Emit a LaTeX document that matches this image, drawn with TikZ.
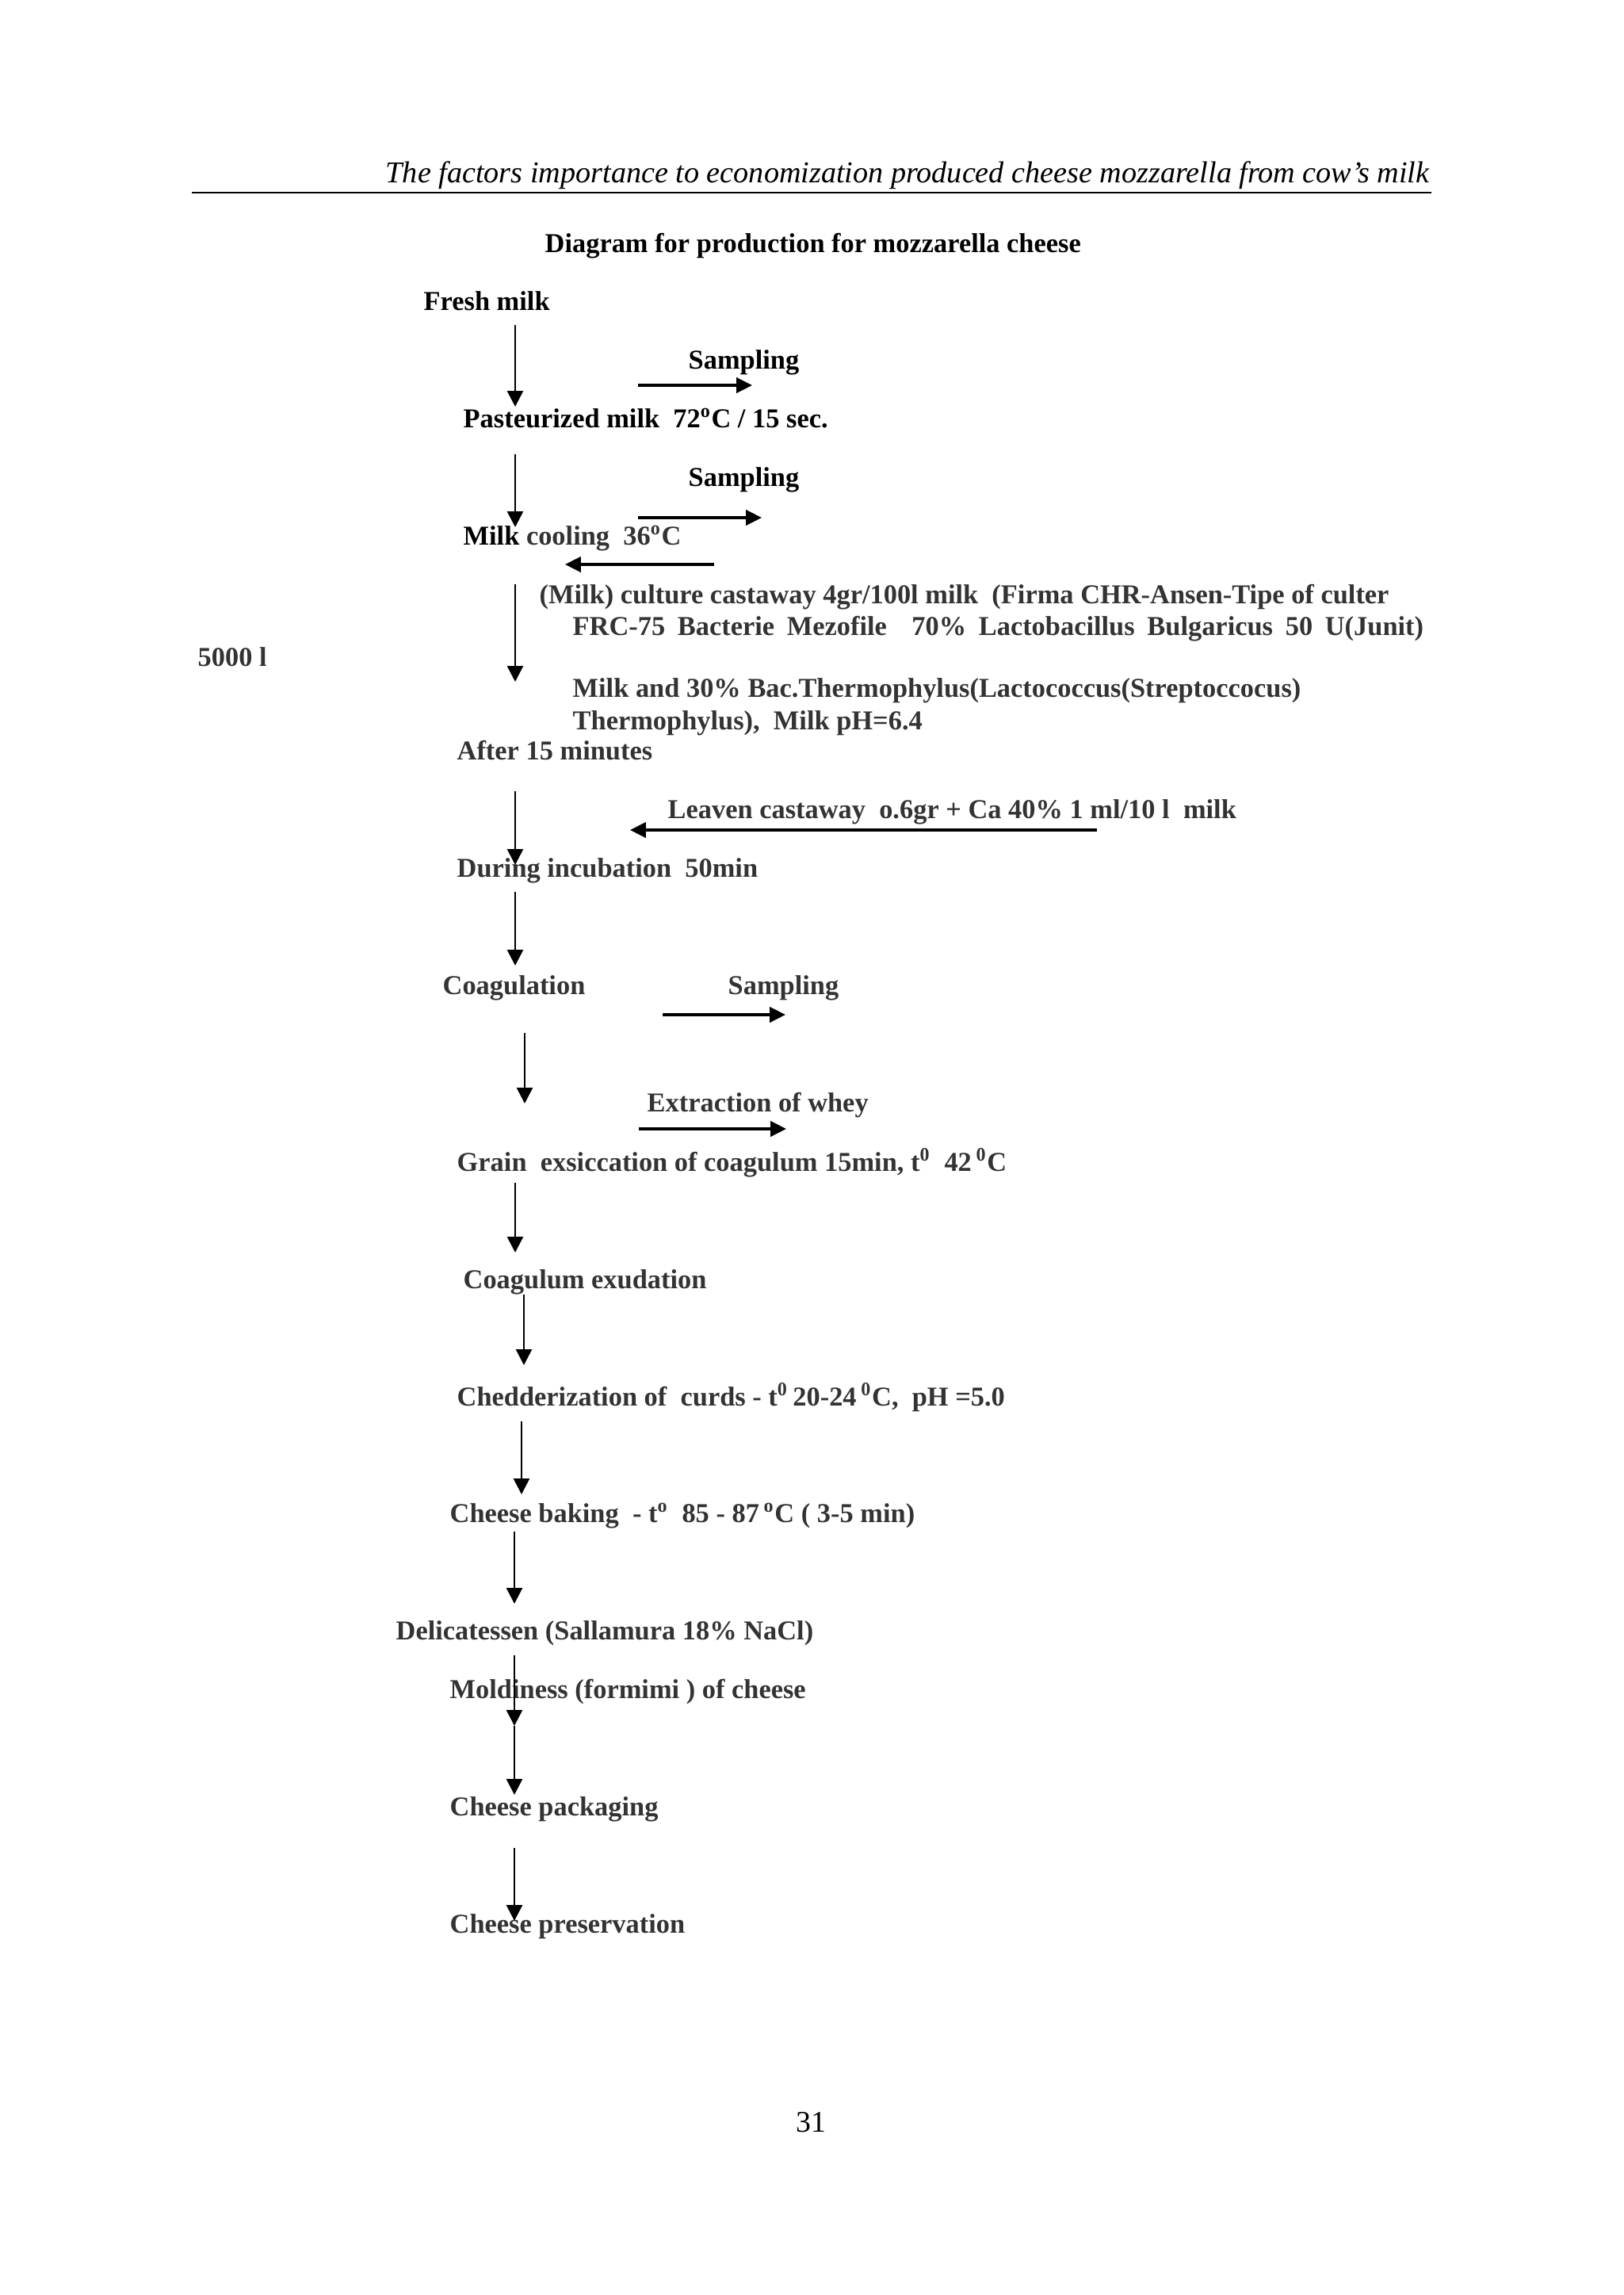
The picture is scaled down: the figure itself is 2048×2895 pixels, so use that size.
\documentclass[tikz,border=0pt]{standalone}
\usepackage{fontspec}
\setmainfont{Liberation Serif}
\usetikzlibrary{arrows.meta}
\definecolor{ink}{gray}{0.2}
\newcommand{\dg}{\textsuperscript{o}}
\newcommand{\dz}{\textsuperscript{0}}
\begin{document}
\begin{tikzpicture}[x=0.29067pt,y=-0.29067pt,
  lbl/.style={anchor=base west,inner sep=0pt,font=\bfseries\fontsize{10}{12}\selectfont},
  gr/.style={text=ink},
  flow/.style={-{Triangle[length=5.8pt,width=5.8pt]},line width=0.8pt},
  side/.style={-{Triangle[length=5.8pt,width=5.6pt]},line width=1pt}]
\useasboundingbox[fill=white] (0,0) rectangle (2048,2895);
% header
\node[anchor=base east,inner sep=0pt,font=\itshape\fontsize{11.1}{13}\selectfont] (hdr) at (1804,230) {The factors importance to economization produced cheese mozzarella from cow’s milk};
\coordinate (rl) at (242,243); \coordinate (rr) at (1806,243);
\draw[line width=0.8pt] (rl) -- (rr);
\node[lbl] (title) at (687,318) {Diagram for production for mozzarella cheese};
% flow texts
\node[lbl] (fresh) at (534,391) {Fresh milk};
\node[lbl] (samp1) at (868,465) {Sampling};
\node[lbl] (past) at (584,539) {Pasteurized milk~~72\dg C / 15 sec.};
\node[lbl] (samp2) at (868,613) {Sampling};
\node[lbl] (cool) at (584,687) {Milk \textcolor{ink}{cooling~~36\dg C}};
\node[lbl,gr] (cult1) at (680,761) {(Milk) culture castaway 4gr/100l milk~~(Firma CHR-Ansen-Tipe of culter};
\node[lbl,gr] (cult2) at (722,801) {\makebox[312pt][s]{FRC-75 Bacterie Mezofile \  70\% Lactobacillus Bulgaricus 50 U(Junit)}};
\node[lbl,gr] (vol) at (249,840) {5000 l};
\node[lbl,gr] (cult3) at (722,879) {Milk and 30\% Bac.Thermophylus(Lactococcus(Streptoccocus)};
\node[lbl,gr] (cult4) at (722,920) {Thermophylus),~~Milk pH=6.4};
\node[lbl,gr] (after) at (576,958) {After 15 minutes};
\node[lbl,gr] (leav) at (842,1032) {Leaven castaway~~o.6gr + Ca 40\% 1 ml/10 l~~milk};
\node[lbl,gr] (incub) at (576,1106) {During incubation~~50min};
\node[lbl,gr] (coag) at (558,1254) {Coagulation};
\node[lbl,gr] (samp3) at (918,1254) {Sampling};
\node[lbl,gr] (whey) at (816,1402) {Extraction of whey};
\node[lbl,gr] (grain) at (576,1477) {Grain~~exsiccation of coagulum 15min, t\dz~~42\,\dz C};
\node[lbl,gr] (exud) at (584,1625) {Coagulum exudation};
\node[lbl,gr] (chedd) at (576,1773) {Chedderization of~~curds - t\dz\,20-24\,\dz C,~~pH =5.0};
\node[lbl,gr] (bake) at (567,1920) {Cheese baking~~- t\dg~~85 - 87\,\dg C ( 3-5 min)};
\node[lbl,gr] (deli) at (499,2068) {Delicatessen (Sallamura 18\% NaCl)};
\node[lbl,gr] (mold) at (567,2142) {Moldiness (formimi ) of cheese};
\node[lbl,gr] (pack) at (567,2290) {Cheese packaging};
\node[lbl,gr] (pres) at (567,2438) {Cheese preservation};
\node[anchor=base,inner sep=0pt,font=\fontsize{11}{13}\selectfont] (pg) at (1023,2689) {31};
% vertical arrows
\coordinate (v1a) at (650,410);  \coordinate (v1b) at (650,513);
\coordinate (v2a) at (650,573);  \coordinate (v2b) at (650,665);
\coordinate (v3a) at (650,737);  \coordinate (v3b) at (650,860);
\coordinate (v4a) at (650,998);  \coordinate (v4b) at (650,1091);
\coordinate (v5a) at (650,1125); \coordinate (v5b) at (650,1218);
\coordinate (v6a) at (662,1303); \coordinate (v6b) at (662,1392);
\coordinate (v7a) at (650,1492); \coordinate (v7b) at (650,1580);
\coordinate (v8a) at (661,1633); \coordinate (v8b) at (661,1722);
\coordinate (v9a) at (658,1793); \coordinate (v9b) at (658,1885);
\coordinate (v10a) at (649,1932); \coordinate (v10b) at (649,2023);
\coordinate (v11a) at (649,2088); \coordinate (v11b) at (649,2177);
\coordinate (v12b) at (649,2264);
\coordinate (v13a) at (649,2331); \coordinate (v13b) at (649,2423);
\foreach \s/\e in {v1a/v1b,v2a/v2b,v3a/v3b,v4a/v4b,v5a/v5b,v6a/v6b,v7a/v7b,v8a/v8b,v9a/v9b,v10a/v10b,v11a/v11b,v11b/v12b,v13a/v13b}
  \draw[flow] (\s) -- (\e);
% side arrows
\coordinate (h1a) at (805,486);  \coordinate (h1b) at (949,486);
\coordinate (h2a) at (805,653);  \coordinate (h2b) at (961,653);
\coordinate (h3a) at (901,712);  \coordinate (h3b) at (713,712);
\coordinate (h4a) at (1384,1047); \coordinate (h4b) at (795,1047);
\coordinate (h5a) at (836,1280); \coordinate (h5b) at (991,1280);
\coordinate (h6a) at (806,1424); \coordinate (h6b) at (992,1424);
\foreach \s/\e in {h1a/h1b,h2a/h2b,h3a/h3b,h4a/h4b,h5a/h5b,h6a/h6b}
  \draw[side] (\s) -- (\e);
\end{tikzpicture}
\end{document}
